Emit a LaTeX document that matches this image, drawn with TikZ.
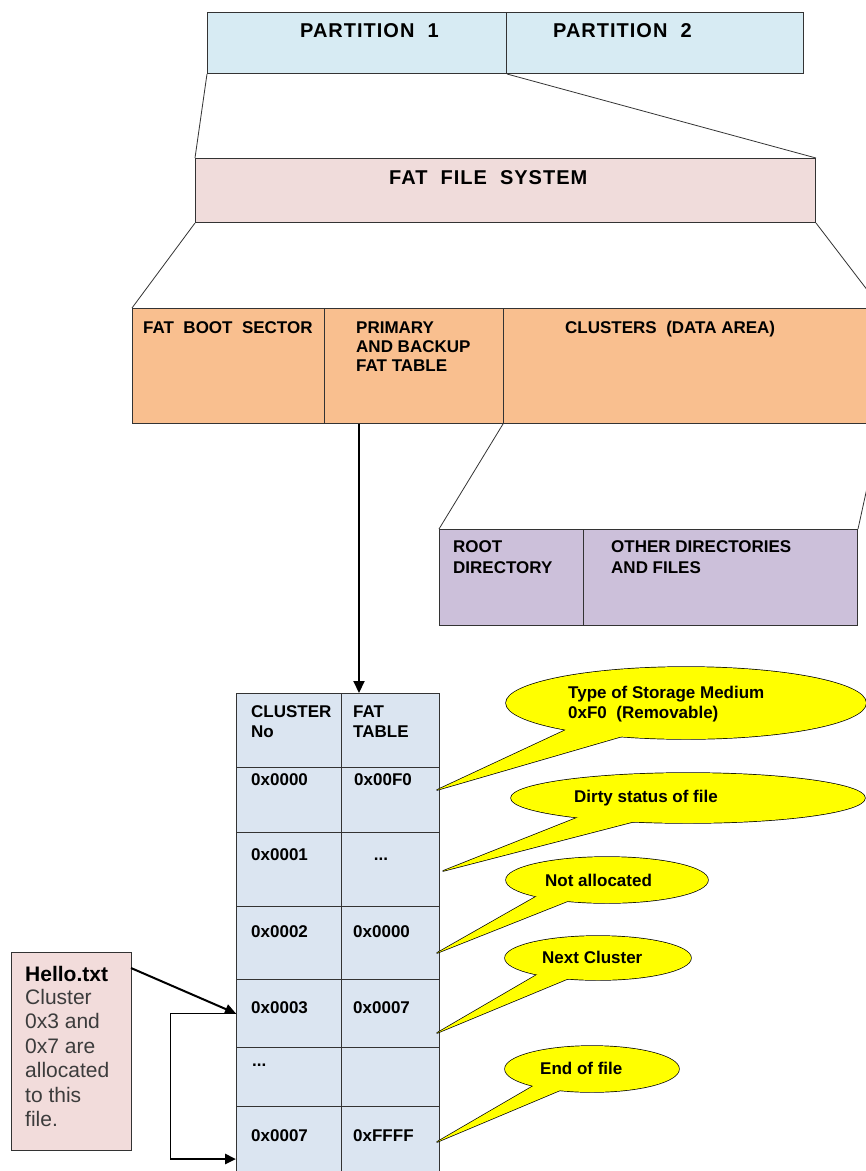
\documentclass[tikz,border=0pt]{standalone}
\usepackage{fontspec}
\setmainfont{Liberation Sans}
\newfontfamily\lsfam[LetterSpace=5]{Liberation Sans}
\usetikzlibrary{shapes.geometric,arrows.meta}
\definecolor{cpart}{HTML}{D7EBF3}
\definecolor{cfat}{HTML}{F0DCDB}
\definecolor{corg}{HTML}{F9BF8F}
\definecolor{cpur}{HTML}{CCC0DA}
\definecolor{ctab}{HTML}{DBE5F1}
\definecolor{chel}{HTML}{F2DCDB}
\definecolor{cyel}{HTML}{FFFF00}
\definecolor{cline}{HTML}{333333}
\definecolor{ctxtg}{HTML}{3C3C3C}
\newcommand\mycallout[7]{%
  \node[ellipse, draw=black, line width=1.4pt, minimum width=#3pt, minimum height=#4pt, inner sep=0] (#1) at (#2) {};
  \draw[line width=1.4pt, line join=round] ([shift={(#5)}]#1.center) -- (#7) -- ([shift={(#6)}]#1.center) -- cycle;
  \node[ellipse, fill=cyel, minimum width=#3pt, minimum height=#4pt, inner sep=0] (#1f) at (#2) {};
  \fill[cyel] ([shift={(#5)}]#1.center) -- (#7) -- ([shift={(#6)}]#1.center) -- cycle;
}
\begin{document}
\begin{tikzpicture}[x=1pt,y=-1pt,
  blk/.style={draw=cline, line width=1pt, inner sep=0, anchor=north west},
  lbl/.style={anchor=base west, inner sep=0, font=\bfseries\fontsize{17}{20}\selectfont},
  big/.style={anchor=base west, inner sep=0, font=\lsfam\bfseries\fontsize{20}{24}\selectfont},
  htxt/.style={anchor=base west, inner sep=0, text=ctxtg, font=\fontsize{21}{24}\selectfont},
  link/.style={draw=cline, line width=0.8pt},
  arr/.style={draw=black, line width=2pt, -{Triangle[length=11pt,width=10pt]}},
]
\useasboundingbox (0,0) rectangle (866,1171);
\clip (0,0) rectangle (866,1171);

% partitions
\node[blk, fill=cpart, minimum width=299pt, minimum height=61pt] (p1) at (207,12) {};
\node[blk, fill=cpart, minimum width=297pt, minimum height=61pt] (p2) at (506,12) {};
\node[big] (tp1) at (300,37) {PARTITION~~1};
\node[big] (tp2) at (553,37) {PARTITION~~2};

% FAT file system
\node[blk, fill=cfat, minimum width=620pt, minimum height=64pt] (fat) at (195,158) {};
\node[big] (tfat) at (389,184) {FAT~~FILE~~SYSTEM};

% orange level
\node[blk, fill=corg, minimum width=192pt, minimum height=115pt] (boot) at (132,308) {};
\node[blk, fill=corg, minimum width=179pt, minimum height=115pt] (fattab) at (324,308) {};
\node[blk, fill=corg, minimum width=377pt, minimum height=115pt] (clus) at (503,308) {};
\node[lbl] (tboot) at (143,333) {FAT~~BOOT~~SECTOR};
\node[lbl] (tprim1) at (356,333) {PRIMARY};
\node[lbl] (tprim2) at (356,352) {AND BACKUP};
\node[lbl] (tprim3) at (356,371) {FAT TABLE};
\node[lbl] (tclus) at (565,333) {CLUSTERS~~(DATA AREA)};

% purple level
\node[blk, fill=cpur, minimum width=144pt, minimum height=96pt] (root) at (439,529) {};
\node[blk, fill=cpur, minimum width=274pt, minimum height=96pt] (other) at (583,529) {};
\node[lbl] (troot1) at (453,552) {ROOT};
\node[lbl] (troot2) at (453,573) {DIRECTORY};
\node[lbl] (toth1) at (611,552) {OTHER DIRECTORIES};
\node[lbl] (toth2) at (611,573) {AND FILES};

% level connectors
\draw[link] (p1.south west) -- (fat.north west);
\draw[link] (p1.south east) -- (fat.north east);
\draw[link] (fat.south west) -- (boot.north west);
\draw[link] (fat.south east) -- (clus.north east);
\draw[link] (clus.south west) -- (root.north west);
\draw[link] (clus.south east) -- (other.north east);

% FAT table
\foreach \n/\y/\h in {0/693/74, 1/767/65, 2/832/74, 3/906/73, 4/979/68, 5/1047/59, 6/1106/79} {
  \node[blk, fill=ctab, minimum width=105pt, minimum height=\h*1pt] (ra\n) at (236,\y) {};
  \node[blk, fill=ctab, minimum width=98pt, minimum height=\h*1pt] (rb\n) at (341,\y) {};
}
\node[lbl] (h1a) at (251,717) {CLUSTER};
\node[lbl] (h1b) at (251,737) {No};
\node[lbl] (h2a) at (353,717) {FAT};
\node[lbl] (h2b) at (353,737) {TABLE};
\node[lbl] (v1a) at (251,785) {0x0000};
\node[lbl] (v1b) at (354,785) {0x00F0};
\node[lbl] (v2a) at (251,860) {0x0001};
\node[lbl, anchor=base] (v2b) at (381,860) {...};
\node[lbl] (v3a) at (251,937) {0x0002};
\node[lbl] (v3b) at (353,937) {0x0000};
\node[lbl] (v4a) at (251,1013) {0x0003};
\node[lbl] (v4b) at (353,1013) {0x0007};
\node[lbl] (v5a) at (252,1066) {...};
\node[lbl] (v6a) at (251,1141) {0x0007};
\node[lbl] (v6b) at (353,1141) {0xFFFF};

% arrow from FAT table area to table
\coordinate (ax) at (359,0);
\draw[arr, -{Triangle[length=12pt,width=11pt]}] (fattab.south -| ax) -- (ra0.north -| ax);

% Hello.txt box
\node[blk, fill=chel, minimum width=120pt, minimum height=198pt] (hello) at (11,952) {};
\node[anchor=base west, inner sep=0, font=\bfseries\fontsize{21}{24}\selectfont] (th0) at (25,981) {Hello.txt};
\foreach \t/\y [count=\i] in {Cluster/1004, 0x3 and/1028, 0x7 are/1053, allocated/1077, to this/1102, file./1126} {
  \node[htxt] (th\i) at (25,\y) {\t};
}
\draw[arr] ([shift={(-1,16)}]hello.north east) -- (ra4.west);
\coordinate (lb) at (170,1159);
\draw[draw=black, line width=1pt] (ra4.west) -| (lb);
\draw[arr, line width=2.5pt] (lb) -- (lb -| ra6.west);

% callouts
\coordinate (k1) at (437,790);
\coordinate (k2) at (443,871);
\coordinate (k3) at (437,953);
\coordinate (k4) at (437,1033);
\coordinate (k5) at (437,1142);
\mycallout{c1}{686,703}{360}{72}{-116,25}{-56,31}{k1}
\mycallout{c2}{688,798}{354}{50}{-104,17}{-48,22}{k2}
\mycallout{c3}{607,880}{202}{46}{-68,15}{-34,19}{k3}
\mycallout{c4}{598,958}{186}{44}{-58,15}{-26,19}{k4}
\mycallout{c5}{592,1069}{174}{46}{-57,16}{-29,20}{k5}
\node[lbl] (ct1a) at (568,698) {Type of Storage Medium};
\node[lbl] (ct1b) at (568,718) {0xF0~~(Removable)};
\node[lbl] (ct2) at (574,802) {Dirty status of file};
\node[lbl] (ct3) at (545,886) {Not allocated};
\node[lbl] (ct4) at (542,963) {Next Cluster};
\node[lbl] (ct5) at (540,1074) {End of file};
\end{tikzpicture}
\end{document}
